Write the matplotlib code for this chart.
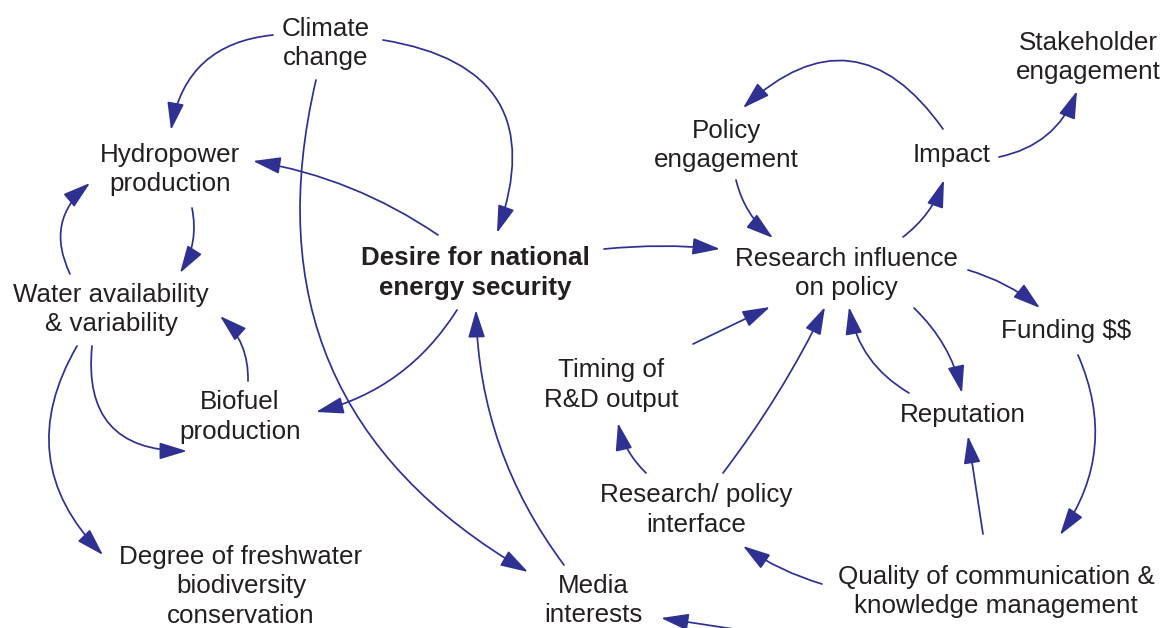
import matplotlib
matplotlib.use('Agg')
import matplotlib.pyplot as plt
from matplotlib.patches import FancyArrowPatch

BLUE = "#2e3192"
INK = "#231f20"
LINE_GAP = 29.5

# nodes: label, first-baseline position (pixels, y down), bold
labels = [
    "Climate\nchange",
    "Hydropower\nproduction",
    "Water availability\n& variability",
    "Biofuel\nproduction",
    "Degree of freshwater\nbiodiversity\nconservation",
    "Desire for national\nenergy security",
    "Media\ninterests",
    "Policy\nengagement",
    "Impact",
    "Stakeholder\nengagement",
    "Research influence\non policy",
    "Funding $$",
    "Timing of\nR&D output",
    "Reputation",
    "Research/ policy\ninterface",
    "Quality of communication &\nknowledge management",
]
label_pos = [
    (326, 36), (170, 162), (111, 302), (240, 409), (241, 564),
    (475, 265), (593, 593), (726, 138), (952, 162), (1088, 50),
    (846, 266), (1066, 338), (611, 377), (963, 422), (696, 502),
    (996, 584),
]
bold = [lab.startswith("Desire") for lab in labels]

# links: tail point, head point, arc curvature
link_from = [
    (273, 35), (383, 40), (316, 80), (438, 235), (192, 208),
    (70, 274), (248, 381), (92, 346), (77, 346), (457, 310),
    (564, 565), (604, 249), (736, 180), (903, 237), (943, 129),
    (999, 157), (968, 270), (1078, 355), (983, 534), (909, 393),
    (914, 308), (723, 473), (693, 344), (646, 473), (822, 584),
    (760, 633),
]
link_to = [
    (171, 130), (497, 233), (528, 572), (253, 161), (180, 273),
    (90, 183), (220, 316), (187, 451), (103, 555), (316, 412),
    (476, 310), (720, 249), (773, 238), (944, 180), (743, 108),
    (1077, 91), (1040, 308), (1060, 535), (968, 436), (849, 307),
    (962, 393), (825, 307), (770, 307), (618, 423), (743, 546),
    (661, 618),
]
link_rad = [
    0.38, -0.6, 0.37, 0.11, -0.2,
    -0.39, 0.23, 0.55, 0.38, -0.2,
    -0.16, -0.05, 0.17, 0.15, 0.57,
    0.27, -0.1, -0.28, 0.0, -0.23,
    -0.15, 0.05, 0.0, -0.15, -0.08,
    0.0,
]

fig = plt.figure(figsize=(11.72, 6.28), dpi=100, facecolor='white')
ax = fig.add_axes([0, 0, 1, 1])
ax.set_xlim(0, 1172)
ax.set_ylim(628, 0)
ax.axis('off')

for p0, p1, r in zip(link_from, link_to, link_rad):
    ax.add_patch(FancyArrowPatch(
        p0, p1, connectionstyle=f"arc3,rad={r}",
        arrowstyle="-|>,head_length=17,head_width=5.2", mutation_scale=1,
        shrinkA=0, shrinkB=0, color=BLUE, lw=1.25, clip_on=True))

for lab, (x, y), b in zip(labels, label_pos, bold):
    for i, line in enumerate(lab.split("\n")):
        ax.text(x, y + i * LINE_GAP, line, ha='center', va='baseline',
                family='Liberation Sans', fontsize=18.7, color=INK,
                fontweight='bold' if b else 'normal', parse_math=False)

fig.savefig('out.png', dpi=100, facecolor='white')
